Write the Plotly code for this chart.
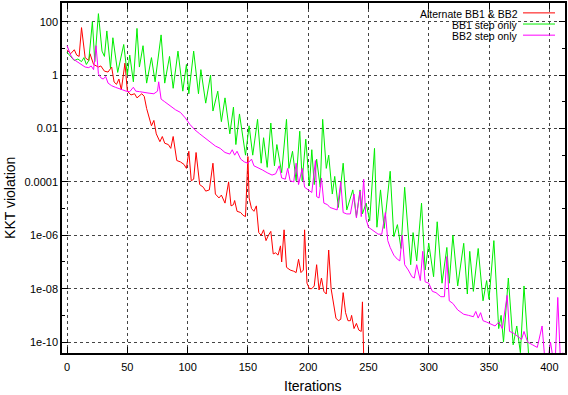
import plotly.graph_objects as go

# ---- data ----
alt_iter = [0, 3, 6, 8, 10, 12, 15, 18, 19, 22, 26, 28, 31, 34, 37, 39, 41, 43, 45, 48, 50, 53, 56, 58, 62, 64, 66, 68, 70, 72,
            74, 77, 79, 81, 84, 86, 88, 91, 94, 97, 99, 101, 103, 105, 107, 110, 113, 115, 118, 121, 123, 126, 128, 131, 134,
            136, 138, 139, 141, 144, 146, 148, 150, 151, 153, 155, 157, 159, 161, 163, 165, 167, 169, 171, 173, 175, 177, 178,
            180, 182, 185, 188, 190, 192, 194, 196, 197, 199, 201, 203, 205, 207, 209, 211, 213, 215, 217, 219, 221, 223, 225,
            227, 229, 231, 233, 235, 236, 238, 240, 242, 244, 245, 246, 247]
alt_kkt = [8.9, 6.3, 8.9, 5.6, 5.0, 60, 4.5, 3.5, 6.3, 2.5, 2.0, 2.2, 1.4, 1.3, 2.0, 0.55, 0.45, 0.71, 0.28, 2.8, 0.25, 0.18, 0.2,
           0.14, 0.2, 0.16, 0.056, 0.025, 0.0126, 0.02, 6.3e-3, 3.2e-3, 5.0e-3, 2.8e-3, 2.5e-3, 1.8e-3, 5.0e-3, 6.3e-4, 5.6e-4,
           4.5e-4, 3.2e-4, 1.4e-3, 1.1e-4, 1.26e-4, 1.26e-3, 7.9e-5, 6.3e-5, 4.5e-5, 5.0e-5, 5.0e-4, 3.5e-5, 2.5e-5, 3.2e-5,
           1.6e-5, 1.0e-4, 1.26e-5, 1.4e-5, 2.0e-5, 7.9e-6, 7.1e-6, 5.6e-6, 5.0e-6, 8.9e-4, 2.5e-5, 1.0e-5, 7.9e-6, 1.26e-5,
           1.26e-6, 1.0e-6, 1.6e-6, 6.3e-7, 1.0e-6, 1.4e-6, 2.0e-7, 2.2e-7, 1.8e-7, 4.0e-7, 1.0e-7, 1.6e-6, 6.3e-8, 5.0e-8,
           4.5e-8, 4.0e-8, 1.26e-7, 4.0e-8, 5.0e-8, 1.6e-6, 1.6e-8, 1.0e-8, 1.0e-8, 1.26e-8, 7.9e-8, 8.9e-9, 2.5e-8, 7.9e-9,
           6.3e-9, 2.8e-7, 1.0e-8, 2.5e-9, 7.9e-10, 6.3e-10, 7.1e-10, 7.1e-9, 1.26e-9, 6.3e-10, 6.3e-10, 1.0e-9, 3.2e-10,
           5.0e-10, 2.8e-10, 2.5e-10, 3.2e-9, 3.2e-11, 1e-11]

bb1_iter = [0, 3, 6, 9, 12, 14, 16, 18, 21, 23, 26, 29, 31, 33, 36, 38, 42, 47, 50, 52, 55, 58, 60, 63, 66, 70, 73, 78, 81, 85,
            88, 92, 96, 99, 101, 105, 109, 111, 115, 119, 121, 125, 128, 131, 135, 138, 140, 143, 148, 151, 154, 158, 161, 163,
            166, 169, 172, 174, 178, 182, 184, 187, 190, 193, 195, 198, 201, 203, 205, 207, 210, 212, 215, 217, 220, 222, 225,
            229, 232, 237, 240, 243, 245, 248, 251, 255, 257, 260, 263, 268, 271, 274, 277, 280, 285, 287, 290, 294, 297, 300,
            304, 307, 311, 315, 317, 320, 324, 329, 332, 334, 337, 341, 345, 348, 350, 354, 358, 360, 362, 366, 370, 373, 376,
            379, 383]
bb1_kkt = [7.1, 5.0, 3.5, 4.0, 3.2, 4.5, 2.5, 3.5, 100, 3.2, 200, 7.9, 5.0, 45, 1.8, 25, 1.26, 14, 1.0, 5.6, 0.56, 56, 2.0, 12.6,
           0.5, 4.5, 0.56, 32, 0.5, 5.0, 0.32, 7.9, 0.25, 2.5, 0.2, 7.9, 0.2, 1.6, 0.089, 1.0, 0.045, 0.25, 0.018, 0.14, 6.3e-3,
           0.063, 2.5e-3, 0.035, 1.0e-3, 0.0126, 1.0e-3, 0.022, 5.0e-4, 4.5e-3, 3.5e-4, 0.016, 4.0e-4, 2.5e-3, 2.2e-4, 0.022,
           3.2e-4, 1.4e-3, 1.1e-4, 7.9e-3, 1.1e-4, 4.0e-3, 7.1e-5, 1.6e-3, 7.9e-5, 7.1e-4, 6.3e-5, 0.022, 3.2e-4, 1.0e-3,
           3.5e-5, 1.6e-4, 1.1e-5, 5.0e-4, 8.9e-6, 5.0e-5, 5.0e-6, 5.0e-5, 6.3e-6, 1.6e-5, 3.5e-6, 1.8e-3, 2.0e-6, 5.0e-5,
           1.8e-6, 2.5e-4, 8.9e-7, 2.5e-6, 3.2e-7, 6.3e-5, 7.9e-8, 1.26e-6, 1.1e-7, 1.6e-5, 5.0e-8, 5.0e-7, 2.8e-8, 3.2e-6,
           1.6e-8, 3.5e-7, 1.6e-8, 1.0e-6, 1.26e-8, 5.0e-7, 6.3e-9, 2.5e-7, 7.9e-9, 3.2e-7, 3.5e-9, 2.0e-8, 4.0e-9, 6.3e-7,
           3.2e-10, 1.0e-9, 1.0e-10, 2.5e-8, 7.9e-11, 4.0e-10, 4.0e-11, 1.26e-8, 2.5e-11]

bb2_iter = [0, 3, 5, 8, 11, 15, 18, 20, 22, 24, 26, 28, 30, 32, 34, 37, 40, 43, 46, 49, 52, 55, 57, 60, 64, 68, 72, 75, 76, 78,
            81, 85, 90, 94, 98, 102, 106, 110, 114, 118, 123, 127, 131, 135, 137, 139, 141, 144, 147, 150, 153, 155, 158, 162,
            166, 170, 173, 176, 178, 181, 183, 185, 188, 190, 192, 195, 197, 200, 203, 206, 207, 209, 211, 213, 216, 218, 221,
            224, 227, 229, 232, 235, 238, 240, 243, 244, 246, 248, 250, 253, 256, 258, 261, 264, 266, 268, 271, 274, 276, 278,
            280, 283, 286, 288, 290, 293, 295, 297, 300, 303, 306, 310, 313, 315, 317, 320, 324, 329, 333, 337, 339, 341, 343,
            345, 348, 352, 355, 358, 361, 365, 367, 370, 374, 377, 379, 382, 386, 390, 394, 396, 399, 401, 403, 405, 407, 409,
            411]
bb2_kkt = [12.6, 5.6, 4.0, 3.2, 2.5, 2.0, 1.9, 2.2, 1.6, 12.6, 1.12, 0.79, 0.71, 0.89, 0.5, 0.4, 0.35, 0.32, 0.28, 0.25, 0.24,
           0.35, 0.25, 0.24, 0.22, 0.21, 0.2, 0.25, 0.56, 0.126, 0.1, 0.071, 0.05, 0.04, 0.025, 0.014, 8.9e-3, 6.3e-3, 4.5e-3,
           3.2e-3, 2.2e-3, 1.8e-3, 1.26e-3, 1.1e-3, 1.6e-3, 1.0e-3, 1.4e-3, 7.1e-4, 5.6e-4, 5.0e-4, 7.1e-4, 4.0e-4, 3.5e-4,
           2.8e-4, 2.2e-4, 1.8e-4, 2.0e-4, 4.0e-4, 1.4e-4, 1.26e-4, 3.2e-4, 1.1e-4, 1.0e-4, 5.0e-4, 7.9e-5, 3.2e-4, 6.3e-5,
           5.0e-5, 4.0e-5, 6.3e-4, 2.8e-5, 2.5e-5, 1.4e-4, 1.6e-5, 1.4e-5, 1.1e-5, 1.0e-5, 8.9e-6, 1.0e-4, 7.1e-6, 6.3e-6,
           6.3e-6, 3.5e-5, 4.5e-6, 4.5e-5, 5.0e-6, 1.26e-4, 4.0e-6, 2.0e-6, 1.6e-6, 1.26e-6, 1.1e-6, 1.1e-6, 7.1e-6, 6.3e-7,
           3.5e-7, 1.8e-7, 1.26e-7, 1.1e-7, 1.0e-6, 7.9e-8, 5.0e-8, 2.8e-8, 2.5e-8, 7.9e-8, 2.0e-8, 2.5e-7, 1.8e-8, 1.6e-8,
           7.9e-9, 7.1e-9, 5.0e-9, 5.0e-9, 1.6e-7, 3.5e-9, 2.8e-9, 1.6e-9, 1.1e-9, 1.0e-9, 8.9e-10, 1.4e-9, 7.9e-10, 1.26e-9,
           6.3e-10, 5.6e-10, 4.5e-10, 4.0e-10, 5.6e-10, 3.2e-10, 5.6e-9, 2.5e-10, 2.2e-10, 1.6e-10, 1.26e-10, 2.5e-10, 1.0e-10,
           7.9e-11, 6.3e-11, 4.0e-10, 3.2e-11, 2.5e-11, 1.0e-10, 2.5e-11, 2.5e-11, 4.7e-9, 3.2e-11, 4.0e-11]

series_names = ["Alternate BB1 & BB2", "BB1 step only", "BB2 step only"]
series_colors = ["#ff0000", "#00ee00", "#ff00ff"]

y_tickvals = [1e-10, 1e-08, 1e-06, 1e-04, 1e-02, 1, 100]
y_ticktext = ["1e-10", "1e-08", "1e-06", "0.0001", "0.01", "1", "100"]
y_minorvals = [1e-09, 1e-07, 1e-05, 1e-03, 1e-01, 10]
x_tickvals = [0, 50, 100, 150, 200, 250, 300, 350, 400]

FONT = "Liberation Sans, Arial, Helvetica, sans-serif"

fig = go.Figure()
for xs, ys, name, col in zip([alt_iter, bb1_iter, bb2_iter], [alt_kkt, bb1_kkt, bb2_kkt], series_names, series_colors):
    fig.add_trace(go.Scatter(x=xs, y=ys, mode="lines", name=name,
                             line=dict(color=col, width=1), showlegend=False))

# plot-area geometry (pixels)
L, R, T, B = 62, 3, 1, 42
W, H = 568 - L - R, 395 - T - B

def px2x(px):
    return (px - L) / W

def py2y(py):
    return (395 - B - py) / H

# white key background (between grid and traces)
fig.add_shape(type="rect", xref="paper", yref="paper", x0=px2x(403), x1=px2x(564), y0=py2y(47), y1=py2y(1),
              fillcolor="white", line=dict(width=0), layer="between")

# key (text to the left, line sample to the right)
for i, (name, col) in enumerate(zip(series_names, series_colors)):
    yy = py2y(12 + 11.2 * i)
    fig.add_annotation(x=px2x(519), y=yy, xref="paper", yref="paper", text=name, showarrow=False,
                       xanchor="right", yanchor="middle", borderpad=0,
                       font=dict(family=FONT, size=10.5, color="black"))
    fig.add_shape(type="line", xref="paper", yref="paper", x0=px2x(523), x1=px2x(555), y0=yy + 0.003, y1=yy + 0.003,
                  line=dict(color=col, width=1))

# axis titles
fig.add_annotation(x=px2x(10), y=py2y(197), xref="paper", yref="paper", text="KKT violation", textangle=-90,
                   xanchor="center", yanchor="middle", showarrow=False, font=dict(family=FONT, size=14, color="black"))
fig.add_annotation(x=px2x(313), y=py2y(386), xref="paper", yref="paper", text="Iterations",
                   xanchor="center", yanchor="middle", showarrow=False, font=dict(family=FONT, size=14, color="black"))

grid = dict(showgrid=True, gridcolor="#444444", gridwidth=1, griddash="3px,3px")
fig.update_xaxes(range=[-4.2, 413], tickvals=x_tickvals, ticks="inside", ticklen=6, tickcolor="black",
                 showline=True, linecolor="black", linewidth=1.5, mirror="allticks", zeroline=False,
                 ticklabelstandoff=3,
                 tickfont=dict(family=FONT, size=11, color="black"), **grid)
fig.update_yaxes(type="log", range=[-10.41, 2.70], tickvals=y_tickvals, ticktext=y_ticktext, ticks="inside",
                 ticklen=6, tickcolor="black", showline=True, linecolor="black", linewidth=1.5, mirror="allticks",
                 zeroline=False, tickfont=dict(family=FONT, size=11, color="black"),
                 minor=dict(tickmode="array", tickvals=y_minorvals, ticks="inside", ticklen=3, tickcolor="black",
                            showgrid=False),
                 **grid)

fig.update_layout(width=568, height=395, margin=dict(l=L, r=R, t=T, b=B),
                  paper_bgcolor="white", plot_bgcolor="white", font=dict(family=FONT, size=11, color="black"),
                  showlegend=False)

fig.write_html("out.html", config={"displayModeBar": False},
               post_script="document.body.style.margin='0px';document.body.style.overflow='hidden';")
